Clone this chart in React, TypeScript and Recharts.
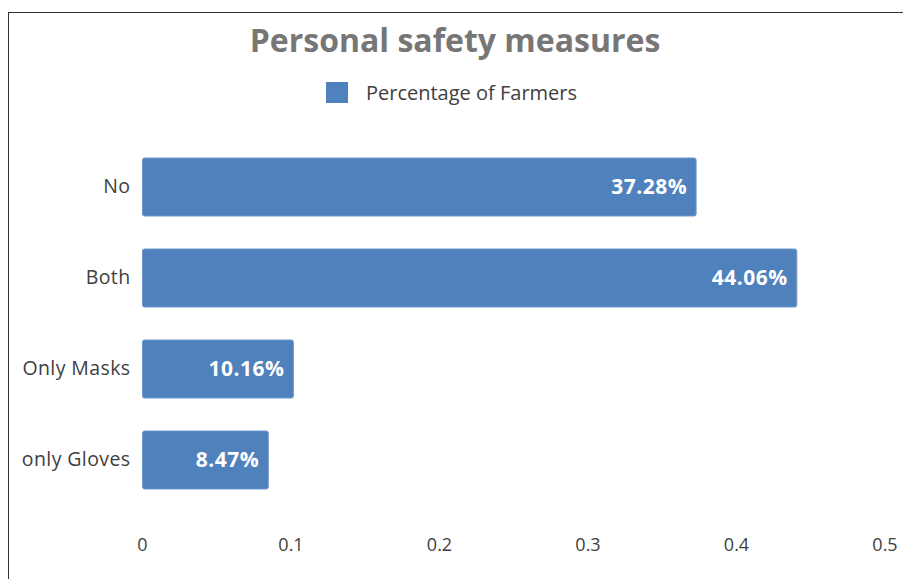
import React from "react";
import { BarChart, Bar, XAxis, YAxis, Legend, LabelList } from "recharts";

// Share of farmers by personal safety measure used
const categories = ["No", "Both", "Only Masks", "only Gloves"];
const shares = [0.3728, 0.4406, 0.1016, 0.0847];
const xTicks = [0, 0.1, 0.2, 0.3, 0.4, 0.5];
const seriesName = "Percentage of Farmers";
const title = "Personal safety measures";

const data = categories.map((c, i) => ({ category: c, share: shares[i] }));

const FONT = "'Open Sans', 'Noto Sans', sans-serif";
const BAR_COLOR = "#4f81bd";

const LegendContent = () => (
  <div
    style={{
      display: "flex",
      justifyContent: "center",
      alignItems: "center",
      fontFamily: FONT,
      fontSize: 20,
      color: "#404040",
    }}
  >
    <span
      style={{
        display: "inline-block",
        width: 22,
        height: 21,
        background: BAR_COLOR,
        marginRight: 18,
      }}
    />
    <span>{seriesName}</span>
  </div>
);

export default function App() {
  return (
    <div
      style={{
        position: "absolute",
        left: 0,
        top: 0,
        width: 903,
        height: 579,
        background: "#ffffff",
        overflow: "hidden",
      }}
    >
      <div
        style={{
          position: "absolute",
          left: 8,
          top: 12,
          width: 920,
          height: 600,
          borderLeft: "1.5px solid #333",
          borderTop: "1.5px solid #333",
        }}
      />
      <div
        style={{
          position: "absolute",
          left: 0,
          top: 18,
          width: 910,
          textAlign: "center",
          fontFamily: FONT,
          fontWeight: 700,
          fontSize: 32,
          color: "#767676",
        }}
      >
        {title}
      </div>
      <BarChart
        width={903}
        height={579}
        data={data}
        layout="vertical"
        margin={{ top: 141, right: 18, bottom: 0, left: 0 }}
        style={{ position: "absolute", left: 0, top: 0 }}
      >
        <XAxis
          type="number"
          domain={[0, 0.5]}
          ticks={xTicks}
          axisLine={false}
          tickLine={false}
          height={74}
          tickMargin={27}
          tick={{ fill: "#404040", fontSize: 18, fontFamily: FONT }}
        />
        <YAxis
          type="category"
          dataKey="category"
          width={142.5}
          axisLine={false}
          tickLine={false}
          tickMargin={6}
          tick={{ fill: "#404040", fontSize: 19.5, fontFamily: FONT, letterSpacing: 0.4 }}
        />
        <Legend
          verticalAlign="middle"
          align="center"
          content={<LegendContent />}
          wrapperStyle={{ top: 79, left: 0, width: 903 }}
        />
        <Bar
          dataKey="share"
          name={seriesName}
          fill={BAR_COLOR}
          stroke="#6e98cc"
          strokeWidth={1}
          barSize={58}
          radius={2}
          isAnimationActive={false}
        >
          <LabelList
            dataKey="share"
            position="insideRight"
            offset={9}
            formatter={(v: number) => `${(v * 100).toFixed(2)}%`}
            style={{
              fill: "#ffffff",
              fontWeight: 700,
              fontSize: 21,
              fontFamily: FONT,
              letterSpacing: 0.5,
            }}
          />
        </Bar>
      </BarChart>
    </div>
  );
}
